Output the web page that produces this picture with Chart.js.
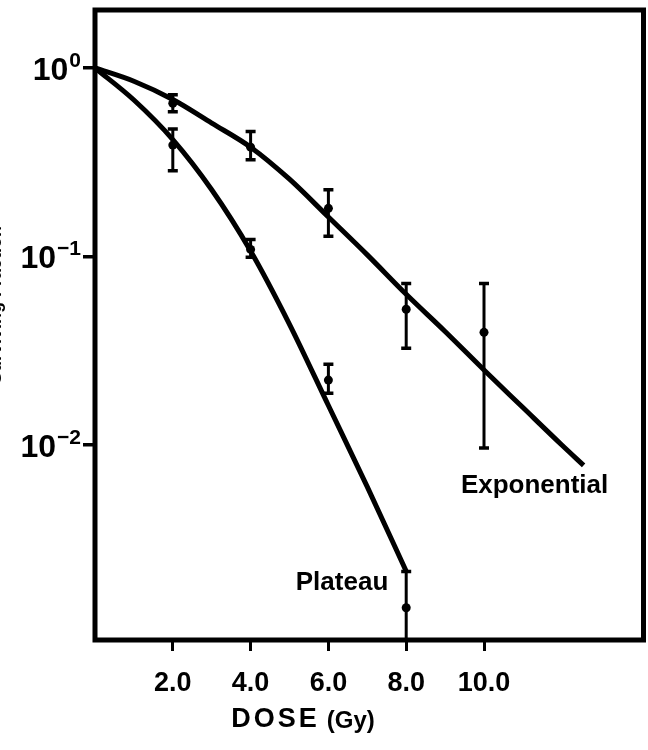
<!DOCTYPE html>
<html><head><meta charset="utf-8">
<script src="https://cdn.jsdelivr.net/npm/chart.js@4/dist/chart.umd.min.js"></script>
<style>html,body{margin:0;padding:0;background:#fff;}canvas{display:block;}</style>
</head><body>
<canvas id="c" width="648" height="750"></canvas>
<script>
// ---- data ----
const expDoses = [2, 4, 6, 8, 10];
const expMean  = [0.65, 0.38, 0.18, 0.0525, 0.0396];
const expUpper = [0.72, 0.46, 0.226, 0.072, 0.072];
const expLower = [0.585, 0.326, 0.128, 0.0326, 0.00964];

const platDoses = [2, 4, 6, 8];
const platMean  = [0.39, 0.109, 0.0221, 0.00137];
const platUpper = [0.475, 0.123, 0.0268, 0.00213];
const platLower = [0.285, 0.099, 0.0188, 0.0005];

const expCurveDose = [0, 1, 2, 3, 4, 5, 6, 7, 8, 9, 10, 11, 12, 12.56];
const expCurveFrac = [1, 0.85, 0.68, 0.51, 0.38, 0.257, 0.162, 0.102, 0.063, 0.040, 0.025, 0.0158, 0.010, 0.0078];
const platCurveDose = [0, 1, 2, 3, 4, 5, 6, 7, 8];
const platCurveFrac = [1, 0.676, 0.417, 0.226, 0.107, 0.0437, 0.0162, 0.0060, 0.00214];

const xTickValues = [2, 4, 6, 8, 10];
const xTickLabels = ['2.0', '4.0', '6.0', '8.0', '10.0'];
const yTickValues = [1, 0.1, 0.01];
const yTickExponents = ['0', '\u22121', '\u22122'];

const curveLabels = ['Exponential', 'Plateau'];
const curveLabelDose = [11.3, 6.35];
const curveLabelFrac = [0.0061, 0.00185];

const xTitle = ['DOSE', '(Gy)'];
const yTitle = 'Surviving Fraction';

// ---- helpers ----
const pts = (xs, ys) => xs.map((x, i) => ({x: x, y: ys[i]}));
const FONT = '"Liberation Sans", Arial, Helvetica, sans-serif';

const decor = {
  id: 'decor',
  beforeDatasetsDraw(chart) {
    const {ctx, chartArea: a, scales: {x, y}} = chart;
    ctx.save();
    ctx.beginPath();
    ctx.rect(a.left, a.top, a.right - a.left, a.bottom - a.top);
    ctx.clip();
    ctx.strokeStyle = '#000';
    ctx.lineCap = 'butt';
    const bars = (ds, up, lo) => {
      ds.forEach((d, i) => {
        const px = x.getPixelForValue(d);
        const pu = y.getPixelForValue(up[i]);
        const pl = y.getPixelForValue(lo[i]);
        ctx.lineWidth = 3;
        ctx.beginPath(); ctx.moveTo(px, pu); ctx.lineTo(px, pl); ctx.stroke();
        ctx.lineWidth = 3.5;
        ctx.beginPath();
        ctx.moveTo(px - 5, pu); ctx.lineTo(px + 5, pu);
        ctx.moveTo(px - 5, pl); ctx.lineTo(px + 5, pl);
        ctx.stroke();
      });
    };
    bars(expDoses, expUpper, expLower);
    bars(platDoses, platUpper, platLower);
    ctx.restore();
  },
  afterDraw(chart) {
    const {ctx, chartArea: a, scales: {x, y}} = chart;
    ctx.save();
    ctx.strokeStyle = '#000';
    ctx.fillStyle = '#000';
    // frame
    ctx.lineWidth = 5;
    ctx.strokeRect(a.left, a.top, a.right - a.left, a.bottom - a.top);
    // y tick labels 10^n
    ctx.textBaseline = 'alphabetic';
    yTickValues.forEach((v, i) => {
      const py = y.getPixelForValue(v);
      ctx.font = 'bold 21px ' + FONT;
      ctx.textAlign = 'right';
      const supW = ctx.measureText(yTickExponents[i]).width;
      const right = a.left - 14;
      ctx.fillText(yTickExponents[i], right, py - 1);
      ctx.font = 'bold 32px ' + FONT;
      ctx.fillText('10', right - supW - 1, py + 12);
    });
    // curve labels
    ctx.font = 'bold 26px ' + FONT;
    ctx.textAlign = 'center';
    ctx.textBaseline = 'middle';
    curveLabels.forEach((t, i) => {
      ctx.fillText(t, x.getPixelForValue(curveLabelDose[i]), y.getPixelForValue(curveLabelFrac[i]));
    });
    // x title
    ctx.textAlign = 'left';
    ctx.textBaseline = 'middle';
    ctx.font = 'bold 27px ' + FONT;
    ctx.letterSpacing = '3px';
    const w1 = ctx.measureText(xTitle[0]).width;
    ctx.font = 'bold 24px ' + FONT;
    ctx.letterSpacing = '0px';
    const w2 = ctx.measureText(xTitle[1]).width;
    const total = w1 + 7 + w2;
    const cx = 303;
    ctx.font = 'bold 27px ' + FONT;
    ctx.letterSpacing = '3px';
    ctx.fillText(xTitle[0], cx - total / 2, 720);
    ctx.font = 'bold 24px ' + FONT;
    ctx.letterSpacing = '0px';
    ctx.fillText(xTitle[1], cx - total / 2 + w1 + 7, 721);
    // y title (cut off at the left edge in the reference)
    ctx.save();
    ctx.translate(1, 305);
    ctx.rotate(-Math.PI / 2);
    ctx.font = 'bold 18px ' + FONT;
    ctx.textAlign = 'center';
    ctx.textBaseline = 'alphabetic';
    ctx.fillText(yTitle, 0, 0);
    ctx.restore();
    ctx.restore();
  }
};

new Chart(document.getElementById('c'), {
  data: {
    datasets: [
      {type: 'line', data: pts(expCurveDose, expCurveFrac), borderColor: '#000', borderWidth: 5,
       pointRadius: 0, cubicInterpolationMode: 'monotone', fill: false},
      {type: 'line', data: pts(platCurveDose, platCurveFrac), borderColor: '#000', borderWidth: 5,
       pointRadius: 0, cubicInterpolationMode: 'monotone', fill: false},
      {type: 'scatter', data: pts(expDoses, expMean), pointRadius: 4.5, backgroundColor: '#000', borderWidth: 0},
      {type: 'scatter', data: pts(platDoses, platMean), pointRadius: 4.5, backgroundColor: '#000', borderWidth: 0}
    ]
  },
  options: {
    responsive: false,
    animation: false,
    events: [],
    layout: {padding: {top: 10, right: 4, left: 0, bottom: 0}},
    plugins: {legend: {display: false}, tooltip: {enabled: false}},
    scales: {
      x: {
        type: 'linear', min: 0, max: 14.1, position: 'bottom',
        afterBuildTicks: s => { s.ticks = xTickValues.map(v => ({value: v})); },
        afterFit: s => { s.height = 110; },
        border: {display: false},
        grid: {drawOnChartArea: false, drawTicks: true, tickLength: 11, color: '#000', lineWidth: 3},
        ticks: {
          color: '#000', padding: 16, maxRotation: 0, autoSkip: false,
          font: {family: FONT, size: 27, weight: 'bold'},
          callback: (v) => { const i = xTickValues.indexOf(v); return i >= 0 ? xTickLabels[i] : ''; }
        }
      },
      y: {
        type: 'logarithmic', min: 0.000924, max: 2.03, position: 'left',
        afterBuildTicks: s => { s.ticks = yTickValues.map(v => ({value: v})); },
        afterFit: s => { s.width = 95; },
        border: {display: false},
        grid: {drawOnChartArea: false, drawTicks: true, tickLength: 12, color: '#000', lineWidth: 3.5},
        ticks: {display: false}
      }
    }
  },
  plugins: [decor]
});
</script>
</body></html>
